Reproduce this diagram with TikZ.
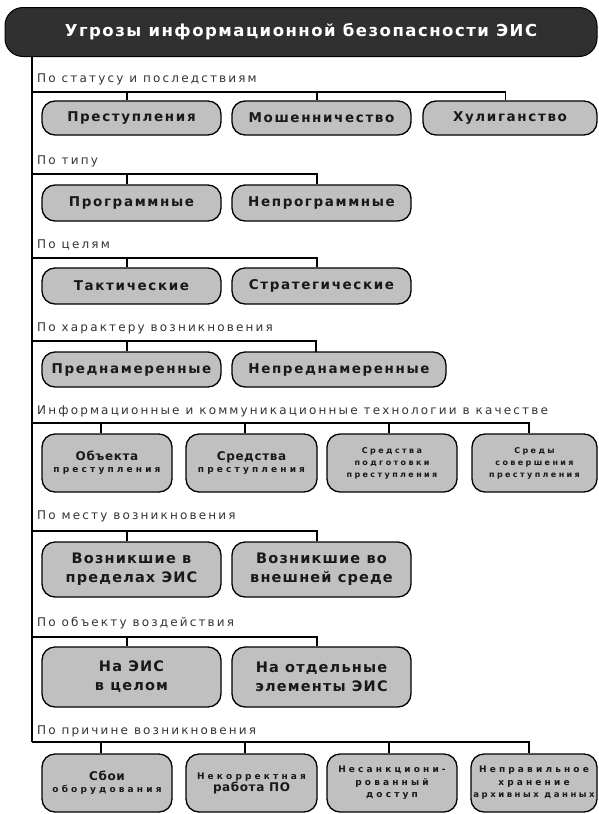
\documentclass[tikz,border=0pt]{standalone}
\usepackage{fontspec}
\setmainfont{DejaVu Sans}
\newfontfamily\titlef[LetterSpace=9]{DejaVu Sans}
\newfontfamily\catf[LetterSpace=18]{DejaVu Sans}
\newfontfamily\bigf[LetterSpace=12]{DejaVu Sans}
\newfontfamily\twof[LetterSpace=8]{DejaVu Sans}
\newfontfamily\midf[LetterSpace=5]{DejaVu Sans}
\newfontfamily\smallf[LetterSpace=30]{DejaVu Sans}
\newfontfamily\smallbf[LetterSpace=35]{DejaVu Sans}
\newcommand{\mybig}{\midf\bfseries\fontsize{12}{15}\selectfont}
\newcommand{\mysmall}{\smallf\bfseries\fontsize{8}{12}\selectfont}
\newcommand{\mysmallb}{\smallbf\bfseries\fontsize{9}{12.5}\selectfont}
\newcommand{\mysmallc}{\smallf\bfseries\fontsize{8.5}{12.5}\selectfont}
\definecolor{boxgray}{HTML}{C0C0C0}
\definecolor{headgray}{HTML}{303030}
\tikzset{
  hdr/.style={draw=black, line width=1pt, fill=headgray, rounded corners=18pt,
    minimum width=592pt, minimum height=49pt, text=white, inner sep=0pt,
    font=\titlef\bfseries\fontsize{16.5}{19}\selectfont},
  cat/.style={anchor=west, inner sep=0pt, text=black!80,
    font=\catf\fontsize{12}{14}\selectfont},
  cbox/.style={draw=black, line width=1.3pt, fill=boxgray, rounded corners=13pt,
    inner sep=0pt, align=center, text=black!90},
  one/.style={cbox, font=\bigf\bfseries\fontsize{13.5}{15}\selectfont},
  two/.style={cbox, font=\twof\bfseries\fontsize{14.5}{19}\selectfont},
  wire/.style={line width=1.2pt}
}
\begin{document}
\begin{tikzpicture}[x=1pt,y=-1pt]
\useasboundingbox (0,0) rectangle (598,814);
\node[hdr] (title) at (301,32) {Угрозы информационной безопасности ЭИС};

% Section 1
\node[cat] (c1) at (37,79) {По статусу и последствиям};
\coordinate (h1) at (32,92);
\node[one, minimum width=179pt, minimum height=34pt] (s1a) at (131.5,118) {Преступления};
\node[one, minimum width=179pt, minimum height=34pt] (s1b) at (321.5,118) {Мошенничество};
\node[one, minimum width=174pt, minimum height=34pt] (s1c) at (510,118) {Хулиганство};
\coordinate (d1a) at ([xshift=-4.5pt]s1a.north);
\coordinate (d1b) at ([xshift=-4.5pt]s1b.north);
\coordinate (d1c) at ([xshift=-4.5pt]s1c.north);
\draw[wire] (h1) -| (d1c);
\draw[wire] (d1a |- h1) -- (d1a);
\draw[wire] (d1b |- h1) -- (d1b);

% Section 2
\node[cat] (c2) at (37,161) {По типу};
\coordinate (h2) at (32,174);
\node[one, minimum width=179pt, minimum height=36pt] (s2a) at (131.5,203) {Программные};
\node[one, minimum width=179pt, minimum height=36pt] (s2b) at (321.5,203) {Непрограммные};
\coordinate (d2a) at ([xshift=-4.5pt]s2a.north);
\coordinate (d2b) at ([xshift=-4.5pt]s2b.north);
\draw[wire] (h2) -| (d2b);
\draw[wire] (d2a |- h2) -- (d2a);

% Section 3
\node[cat] (c3) at (37,245) {По целям};
\coordinate (h3) at (32,258);
\node[one, minimum width=179pt, minimum height=36pt] (s3a) at (131.5,286) {Тактические};
\node[one, minimum width=179pt, minimum height=36pt] (s3b) at (321.5,286) {Стратегические};
\coordinate (d3a) at ([xshift=-4.5pt]s3a.north);
\coordinate (d3b) at ([xshift=-4.5pt]s3b.north);
\draw[wire] (h3) -| (d3b);
\draw[wire] (d3a |- h3) -- (d3a);

% Section 4
\node[cat] (c4) at (37,328) {По характеру возникновения};
\coordinate (h4) at (32,341);
\node[one, minimum width=179pt, minimum height=35pt] (s4a) at (131.5,369.5) {Преднамеренные};
\node[one, minimum width=214pt, minimum height=35pt] (s4b) at (339,369.5) {Непреднамеренные};
\coordinate (d4a) at ([xshift=-4.5pt]s4a.north);
\coordinate (d4b) at (316,352);
\draw[wire] (h4) -| (d4b);
\draw[wire] (d4a |- h4) -- (d4a);

% Section 5
\node[cat] (c5) at (37,411) {Информационные и коммуникационные технологии в качестве};
\coordinate (h5) at (32,423);
\node[cbox, minimum width=130pt, minimum height=58pt] (s5a) at (107,463) {{\mybig Объекта}\\{\mysmallb преступления}};
\node[cbox, minimum width=131pt, minimum height=58pt] (s5b) at (251.5,463) {{\mybig Средства}\\{\mysmallb преступления}};
\node[cbox, minimum width=130pt, minimum height=58pt, font=\mysmall] (s5c) at (392,463) {Средства\\подготовки\\преступления};
\node[cbox, minimum width=125pt, minimum height=58pt, font=\mysmall] (s5d) at (534.5,463) {Среды\\совершения\\преступления};
\coordinate (d5a) at ([xshift=-6pt]s5a.north);
\coordinate (d5b) at ([xshift=-6.5pt]s5b.north);
\coordinate (d5c) at ([xshift=-3pt]s5c.north);
\coordinate (d5d) at ([xshift=-5.5pt]s5d.north);
\draw[wire] (h5) -| (d5d);
\draw[wire] (d5a |- h5) -- (d5a);
\draw[wire] (d5b |- h5) -- (d5b);
\draw[wire] (d5c |- h5) -- (d5c);

% Section 6
\node[cat] (c6) at (37,516) {По месту возникновения};
\coordinate (h6) at (32,531);
\node[two, minimum width=179pt, minimum height=55pt] (s6a) at (131.5,569.5) {Возникшие в\\пределах ЭИС};
\node[two, minimum width=179pt, minimum height=55pt] (s6b) at (321.5,569.5) {Возникшие во\\внешней среде};
\coordinate (d6a) at ([xshift=-4.5pt]s6a.north);
\coordinate (d6b) at ([xshift=-4.5pt]s6b.north);
\draw[wire] (h6) -| (d6b);
\draw[wire] (d6a |- h6) -- (d6a);

% Section 7
\node[cat] (c7) at (37,623) {По объекту воздействия};
\coordinate (h7) at (32,637);
\node[two, minimum width=179pt, minimum height=60pt] (s7a) at (131.5,677) {На ЭИС\\в целом};
\node[two, minimum width=179pt, minimum height=60pt] (s7b) at (321.5,677) {На отдельные\\элементы ЭИС};
\coordinate (d7a) at ([xshift=-4.5pt]s7a.north);
\coordinate (d7b) at ([xshift=-4.5pt]s7b.north);
\draw[wire] (h7) -| (d7b);
\draw[wire] (d7a |- h7) -- (d7a);

% Section 8
\node[cat] (c8) at (37,731) {По причине возникновения};
\coordinate (h8) at (32,742);
\node[cbox, minimum width=130pt, minimum height=58pt] (s8a) at (107,783) {{\mybig Сбои}\\{\mysmallb оборудования}};
\node[cbox, minimum width=131pt, minimum height=58pt] (s8b) at (251.5,783) {{\mysmallb Некорректная}\\{\mybig работа ПО}};
\node[cbox, minimum width=130pt, minimum height=58pt, font=\mysmallb] (s8c) at (392,783) {Несанкциони-\\рованный\\доступ};
\node[cbox, minimum width=126pt, minimum height=58pt, font=\mysmallb] (s8d) at (534,783) {Неправильное\\хранение\\{\mysmallc архивных данных}};
\coordinate (d8a) at ([xshift=-6pt]s8a.north);
\coordinate (d8b) at ([xshift=-6.5pt]s8b.north);
\coordinate (d8c) at ([xshift=-3pt]s8c.north);
\coordinate (d8d) at ([xshift=-5pt]s8d.north);
\draw[wire] (h8) -| (d8d);
\draw[wire] (d8a |- h8) -- (d8a);
\draw[wire] (d8b |- h8) -- (d8b);
\draw[wire] (d8c |- h8) -- (d8c);

% trunk
\draw[wire] (title.south -| h1) -- (h8);
\end{tikzpicture}
\end{document}
